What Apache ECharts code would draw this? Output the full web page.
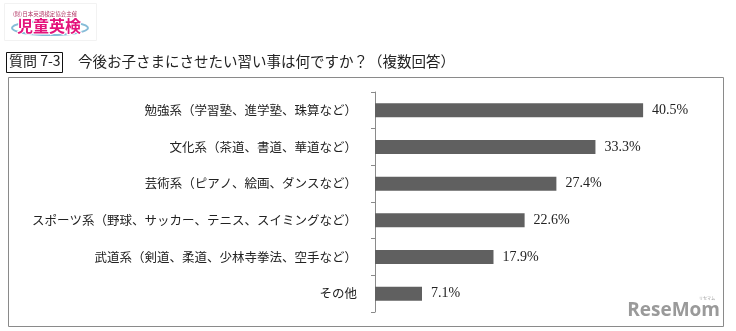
<!DOCTYPE html>
<html>
<head>
<meta charset="utf-8">
<script src="https://cdn.jsdelivr.net/npm/echarts@6/dist/echarts.min.js"></script>
<style>
html,body{margin:0;padding:0;background:#fff;}
#c{width:736px;height:331px;}
</style>
</head>
<body>
<div id="c"></div>
<script>
var categories = [
  '勉強系（学習塾、進学塾、珠算など）',
  '文化系（茶道、書道、華道など）',
  '芸術系（ピアノ、絵画、ダンスなど）',
  'スポーツ系（野球、サッカー、テニス、スイミングなど）',
  '武道系（剣道、柔道、少林寺拳法、空手など）',
  'その他'
];
var values = [40.5, 33.3, 27.4, 22.6, 17.9, 7.1];
var questionLabel = '質問 7-3';
var titleText = '今後お子さまにさせたい習い事は何ですか？（複数回答）';

var chart = echarts.init(document.getElementById('c'), null, {renderer: 'canvas'});
var jp = '"Noto Sans CJK JP", sans-serif';
chart.setOption({
  animation: false,
  backgroundColor: '#ffffff',
  grid: {left: 375, top: 92, height: 220, right: 30, containLabel: false},
  xAxis: {type: 'value', min: 0, max: 50, show: false},
  yAxis: {
    type: 'category',
    data: categories,
    inverse: true,
    axisLine: {show: true, lineStyle: {color: '#8a8a8a', width: 1}},
    axisTick: {show: true, length: 4, lineStyle: {color: '#8a8a8a'}},
    axisLabel: {margin: 18, color: '#222', fontSize: 12.5, fontFamily: jp}
  },
  series: [{
    type: 'bar',
    data: values,
    barWidth: 14,
    itemStyle: {color: '#606060'},
    label: {
      show: true, position: 'right', distance: 9,
      formatter: function(p){ return p.value.toFixed(1) + '%'; },
      color: '#222', fontSize: 14, fontFamily: '"Liberation Serif", serif'
    }
  }],
  graphic: [
    {type: 'rect', shape: {x: 8.5, y: 77.5, width: 715, height: 249}, style: {fill: 'none', stroke: '#8a8a8a', lineWidth: 1}, silent: true},
    {type: 'rect', shape: {x: 6.5, y: 52.5, width: 56, height: 20}, style: {fill: 'none', stroke: '#111', lineWidth: 1}},
    {type: 'text', left: 9, top: 54, style: {text: questionLabel, fontSize: 14, fontFamily: jp, fill: '#222'}},
    {type: 'text', left: 78, top: 54, style: {text: titleText, fontSize: 14.5, fontFamily: jp, fill: '#222'}},
    {type: 'rect', shape: {x: 4.5, y: 3.5, width: 92, height: 37}, style: {fill: 'none', stroke: '#f2f2f2', lineWidth: 1}},
    {type: 'ellipse', shape: {cx: 50, cy: 28, rx: 38, ry: 7}, style: {fill: 'none', stroke: '#86bcd8', lineWidth: 2}},
    {type: 'text', left: 13, top: 11, style: {text: '(財)日本英語検定協会主催', fontSize: 5.5, fontFamily: jp, fill: '#b03060'}},
    {type: 'text', left: 16, top: 17, style: {text: '児童英検', fontSize: 16, fontWeight: 'bold', fontFamily: jp, fill: '#e4147c', stroke: '#ffffff', lineWidth: 2}},
    {type: 'text', right: 16, top: 301, style: {text: 'ReseMom', fontSize: 19, fontWeight: 'bold', fontFamily: '"Open Sans", sans-serif', fill: '#9a9a9a'}},
    {type: 'text', right: 21, top: 296, style: {text: 'リセマム', fontSize: 4, fontFamily: jp, fill: '#9a9a9a'}}
  ]
});
</script>
</body>
</html>
